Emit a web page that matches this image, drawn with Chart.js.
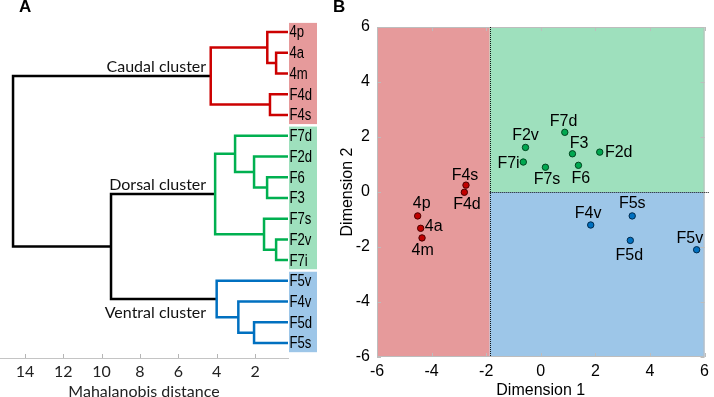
<!DOCTYPE html>
<html>
<head>
<meta charset="utf-8">
<script src="https://cdn.jsdelivr.net/npm/chart.js@4.4.0/dist/chart.umd.min.js"></script>
<style>
  html, body { margin: 0; padding: 0; background: #fff; overflow: hidden; }
  #wrap { position: relative; width: 714px; height: 397px; overflow: hidden; }
  #treeBox { position: absolute; left: 0; top: 0; width: 330px; height: 404px; }
  #mapBox { position: absolute; left: 330px; top: 0; width: 384px; height: 404px; }
  .panel { position: absolute; font: bold 17px "Liberation Sans", Arial, sans-serif; color: #000; }
</style>
</head>
<body>
<div id="wrap">
  <div id="treeBox"><canvas id="treeChart"></canvas></div>
  <div id="mapBox"><canvas id="mapChart"></canvas></div>
  <div class="panel" style="left:19px;top:-3px">A</div>
  <div class="panel" style="left:333px;top:-3px">B</div>
</div>
<script>
// ---- panel A: dendrogram ----
const leafNames = ['4p', '4a', '4m', 'F4d', 'F4s', 'F7d', 'F2d', 'F6', 'F3', 'F7s', 'F2v', 'F7i', 'F5v', 'F4v', 'F5d', 'F5s'];
const leafCluster = [0, 0, 0, 0, 0, 1, 1, 1, 1, 1, 1, 1, 2, 2, 2, 2];
const clusterNames = ['Caudal cluster', 'Dorsal cluster', 'Ventral cluster'];
// merge k creates node 16 + k from two earlier nodes (leaves are 0..15)
const mergeLeft = [1, 0, 3, 17, 7, 6, 5, 10, 9, 22, 14, 13, 12, 25, 19];
const mergeRight = [2, 16, 4, 18, 8, 20, 21, 11, 23, 24, 15, 26, 27, 28, 29];
const mergeHeight = [0.90, 1.36, 1.22, 4.31, 1.37, 2.05, 3.04, 0.90, 1.53, 4.08, 2.05, 2.87, 4.00, 9.51, 14.62];
const distanceTicks = [2, 4, 6, 8, 10, 12, 14];

// ---- panel B: scatter ----
const caudalNames = ['4p', '4a', '4m', 'F4d', 'F4s'];
const caudalDim1 = [-4.51, -4.40, -4.35, -2.80, -2.74];
const caudalDim2 = [-0.87, -1.32, -1.67, -0.01, 0.25];
const dorsalNames = ['F7d', 'F2d', 'F6', 'F3', 'F7s', 'F2v', 'F7i'];
const dorsalDim1 = [0.88, 2.16, 1.38, 1.16, 0.17, -0.56, -0.64];
const dorsalDim2 = [2.17, 1.45, 0.97, 1.39, 0.90, 1.62, 1.09];
const ventralNames = ['F5v', 'F4v', 'F5d', 'F5s'];
const ventralDim1 = [5.71, 1.83, 3.28, 3.35];
const ventralDim2 = [-2.10, -1.20, -1.76, -0.87];
const splitDim1 = -1.87;
const splitDim2 = 0;
const dimTicks = [-6, -4, -2, 0, 2, 4, 6];

const lineColors = ['#cc0000', '#00b050', '#0070c0'];
const boxColors = ['#e69a9b', '#9ee0bd', '#9dc6e8'];
const dotFill = ['#c00000', '#00a850', '#0070c0'];
const dotEdge = ['#4a0000', '#00451f', '#002a4d'];

const narrowFont = '16px "Liberation Sans", Arial, sans-serif';
const calFont = 'Lato, "Open Sans", sans-serif';

// build node coordinates for the tree
const nodeX = leafNames.map(() => 0);
const nodeY = leafNames.map((n, i) => i);
const nodeCluster = leafCluster.slice();
mergeHeight.forEach((h, k) => {
  const a = mergeLeft[k], b = mergeRight[k];
  nodeX.push(h);
  nodeY.push((nodeY[a] + nodeY[b]) / 2);
  nodeCluster.push(nodeCluster[a] === nodeCluster[b] ? nodeCluster[a] : -1);
});

const treeSets = mergeHeight.map((h, k) => {
  const a = mergeLeft[k], b = mergeRight[k];
  const c = nodeCluster[leafNames.length + k];
  return {
    data: [
      { x: nodeX[a], y: nodeY[a] },
      { x: h, y: nodeY[a] },
      { x: h, y: nodeY[b] },
      { x: nodeX[b], y: nodeY[b] }
    ],
    showLine: true,
    borderColor: c < 0 ? '#000000' : lineColors[c],
    borderWidth: 2.5,
    borderJoinStyle: 'miter',
    pointRadius: 0,
    tension: 0,
    clip: 0
  };
});

// cluster root = highest node that is still inside one cluster
const clusterRoot = clusterNames.map((n, c) => {
  let best = -1;
  nodeCluster.forEach((cc, i) => { if (cc === c && (best < 0 || nodeX[i] > nodeX[best])) best = i; });
  return best;
});

const treeDecor = {
  id: 'treeDecor',
  beforeDatasetsDraw(chart) {
    const { ctx, chartArea, scales } = chart;
    const ys = scales.y;
    ctx.save();
    clusterNames.forEach((n, c) => {
      const idx = leafCluster.map((v, i) => v === c ? i : -1).filter(i => i >= 0);
      const top = ys.getPixelForValue(idx[0] - 0.44);
      const bot = ys.getPixelForValue(idx[idx.length - 1] + 0.44);
      ctx.fillStyle = boxColors[c];
      ctx.fillRect(chartArea.right + 1, top, 28, bot - top);
    });
    ctx.restore();
  },
  afterDraw(chart) {
    const { ctx, chartArea, scales } = chart;
    const xs = scales.x, ys = scales.y;
    ctx.save();
    // leaf labels (narrowed Arial)
    ctx.fillStyle = '#000';
    ctx.font = narrowFont;
    ctx.textAlign = 'left';
    ctx.textBaseline = 'middle';
    leafNames.forEach((name, i) => {
      ctx.save();
      ctx.translate(chartArea.right + 1.5, ys.getPixelForValue(i) + 1);
      ctx.scale(0.82, 1);
      ctx.fillText(name, 0, 0);
      ctx.restore();
    });
    // cluster names
    ctx.font = '16px ' + calFont;
    ctx.fillStyle = '#111';
    ctx.textAlign = 'right';
    ctx.textBaseline = 'alphabetic';
    clusterNames.forEach((name, c) => {
      const r = clusterRoot[c];
      const x = xs.getPixelForValue(4.55);
      const y = ys.getPixelForValue(nodeY[r]);
      ctx.fillText(name, x, c === 2 ? y + 19 : y - 4);
    });
    // inward tick marks
    ctx.strokeStyle = '#b5b5b5';
    ctx.lineWidth = 1;
    xs.ticks.forEach(t => {
      const x = Math.round(xs.getPixelForValue(t.value)) + 0.5;
      ctx.beginPath();
      ctx.moveTo(x, chartArea.bottom);
      ctx.lineTo(x, chartArea.bottom - 4);
      ctx.stroke();
    });
    ctx.restore();
  }
};

new Chart(document.getElementById('treeChart'), {
  type: 'scatter',
  data: { datasets: treeSets },
  options: {
    responsive: true,
    maintainAspectRatio: false,
    animation: false,
    layout: { padding: { top: 12, right: 42, left: 0, bottom: 0 } },
    plugins: { legend: { display: false }, tooltip: { enabled: false } },
    scales: {
      x: {
        type: 'linear',
        reverse: true,
        min: 0.28,
        max: 15.3,
        afterBuildTicks: s => { s.ticks = distanceTicks.map(v => ({ value: v })); },
        afterFit: s => { s.height = 46; },
        grid: { display: false, drawTicks: false },
        border: { display: true, color: '#c4c4c4', width: 1 },
        ticks: { color: '#222', font: { family: calFont, size: 16 }, padding: 4, maxRotation: 0 },
        title: { display: true, text: 'Mahalanobis distance', color: '#222', font: { family: calFont, size: 16 }, padding: { top: 0, bottom: 3 } }
      },
      y: {
        type: 'linear',
        reverse: true,
        min: -0.965,
        max: 15.72,
        display: false
      }
    }
  },
  plugins: [treeDecor]
});

// ---- panel B ----
const groupNames = [caudalNames, dorsalNames, ventralNames];
const groupDim1 = [caudalDim1, dorsalDim1, ventralDim1];
const groupDim2 = [caudalDim2, dorsalDim2, ventralDim2];

// label nudges in px (centre of text relative to the point)
const labelNudge = {
  '4p': [4, -12.7], '4a': [13, -1.5], '4m': [0.7, 12.7], 'F4d': [2.6, 12.7], 'F4s': [-1, -9.3],
  'F7d': [-1.3, -10.6], 'F2d': [19, 0], 'F6': [2.3, 13], 'F3': [6.7, -9.7], 'F7s': [1.6, 12.7],
  'F2v': [0, -12.3], 'F7i': [-14.8, 1.3],
  'F5v': [-6.7, -11.4], 'F4v': [-2.6, -11.7], 'F5d': [-1, 15.5], 'F5s': [0, -12.7]
};

const mapSets = groupNames.map((names, g) => ({
  data: names.map((n, i) => ({ x: groupDim1[g][i], y: groupDim2[g][i] })),
  pointRadius: 3.2,
  pointBorderWidth: 1,
  pointBackgroundColor: dotFill[g],
  pointBorderColor: dotEdge[g],
  showLine: false
}));

const mapDecor = {
  id: 'mapDecor',
  beforeDatasetsDraw(chart) {
    const { ctx, chartArea: a, scales } = chart;
    const xs = scales.x, ys = scales.y;
    const sx = xs.getPixelForValue(splitDim1);
    const sy = ys.getPixelForValue(splitDim2);
    ctx.save();
    ctx.fillStyle = boxColors[0];
    ctx.fillRect(a.left, a.top, sx - a.left, a.bottom - a.top);
    ctx.fillStyle = boxColors[1];
    ctx.fillRect(sx, a.top, a.right - sx, sy - a.top);
    ctx.fillStyle = boxColors[2];
    ctx.fillRect(sx, sy, a.right - sx, a.bottom - sy);
    // box + inward ticks
    ctx.strokeStyle = '#bdbdbd';
    ctx.lineWidth = 1;
    ctx.strokeRect(a.left + 0.5, a.top + 0.5, a.right - a.left - 1, a.bottom - a.top - 1);
    ctx.beginPath();
    dimTicks.forEach(v => {
      const x = Math.round(xs.getPixelForValue(v)) + 0.5;
      ctx.moveTo(x, a.bottom); ctx.lineTo(x, a.bottom - 4);
      ctx.moveTo(x, a.top); ctx.lineTo(x, a.top + 4);
      const y = Math.round(ys.getPixelForValue(v)) + 0.5;
      ctx.moveTo(a.left, y); ctx.lineTo(a.left + 4, y);
      ctx.moveTo(a.right, y); ctx.lineTo(a.right - 4, y);
    });
    ctx.stroke();
    // dotted split lines
    ctx.strokeStyle = '#111';
    ctx.setLineDash([1, 1]);
    ctx.beginPath();
    ctx.moveTo(Math.round(sx) + 0.5, a.top);
    ctx.lineTo(Math.round(sx) + 0.5, a.bottom);
    ctx.moveTo(sx, Math.round(sy) + 0.5);
    ctx.lineTo(a.right + 5, Math.round(sy) + 0.5);
    ctx.stroke();
    ctx.restore();
  },
  afterDatasetsDraw(chart) {
    const { ctx, scales } = chart;
    ctx.save();
    ctx.font = narrowFont;
    ctx.fillStyle = '#000';
    ctx.textAlign = 'center';
    ctx.textBaseline = 'middle';
    groupNames.forEach((names, g) => {
      names.forEach((n, i) => {
        const px = scales.x.getPixelForValue(groupDim1[g][i]);
        const py = scales.y.getPixelForValue(groupDim2[g][i]);
        const d = labelNudge[n];
        ctx.fillText(n, px + d[0], py + d[1]);
      });
    });
    ctx.restore();
  }
};

const armFont = { family: '"Liberation Sans", Arial, sans-serif', size: 16 };

new Chart(document.getElementById('mapChart'), {
  type: 'scatter',
  data: { datasets: mapSets },
  options: {
    responsive: true,
    maintainAspectRatio: false,
    animation: false,
    layout: { padding: { top: 27, right: 6, left: 0, bottom: 0 } },
    plugins: { legend: { display: false }, tooltip: { enabled: false } },
    scales: {
      x: {
        min: -6, max: 6,
        afterBuildTicks: s => { s.ticks = dimTicks.map(v => ({ value: v })); },
        afterFit: s => { s.height = 47; },
        grid: { display: false, drawTicks: false },
        border: { display: false },
        ticks: { color: '#000', font: armFont, padding: 5, maxRotation: 0 },
        title: { display: true, text: 'Dimension 1', color: '#000', font: armFont, padding: { top: 0, bottom: 4 } }
      },
      y: {
        min: -6, max: 6,
        afterBuildTicks: s => { s.ticks = dimTicks.map(v => ({ value: v })); },
        afterFit: s => { s.width = 47; },
        grid: { display: false, drawTicks: false },
        border: { display: false },
        ticks: { color: '#000', font: armFont, padding: 7 },
        title: { display: true, text: 'Dimension 2', color: '#000', font: armFont, padding: { top: 8, bottom: 0 } }
      }
    }
  },
  plugins: [mapDecor]
});
</script>
</body>
</html>
